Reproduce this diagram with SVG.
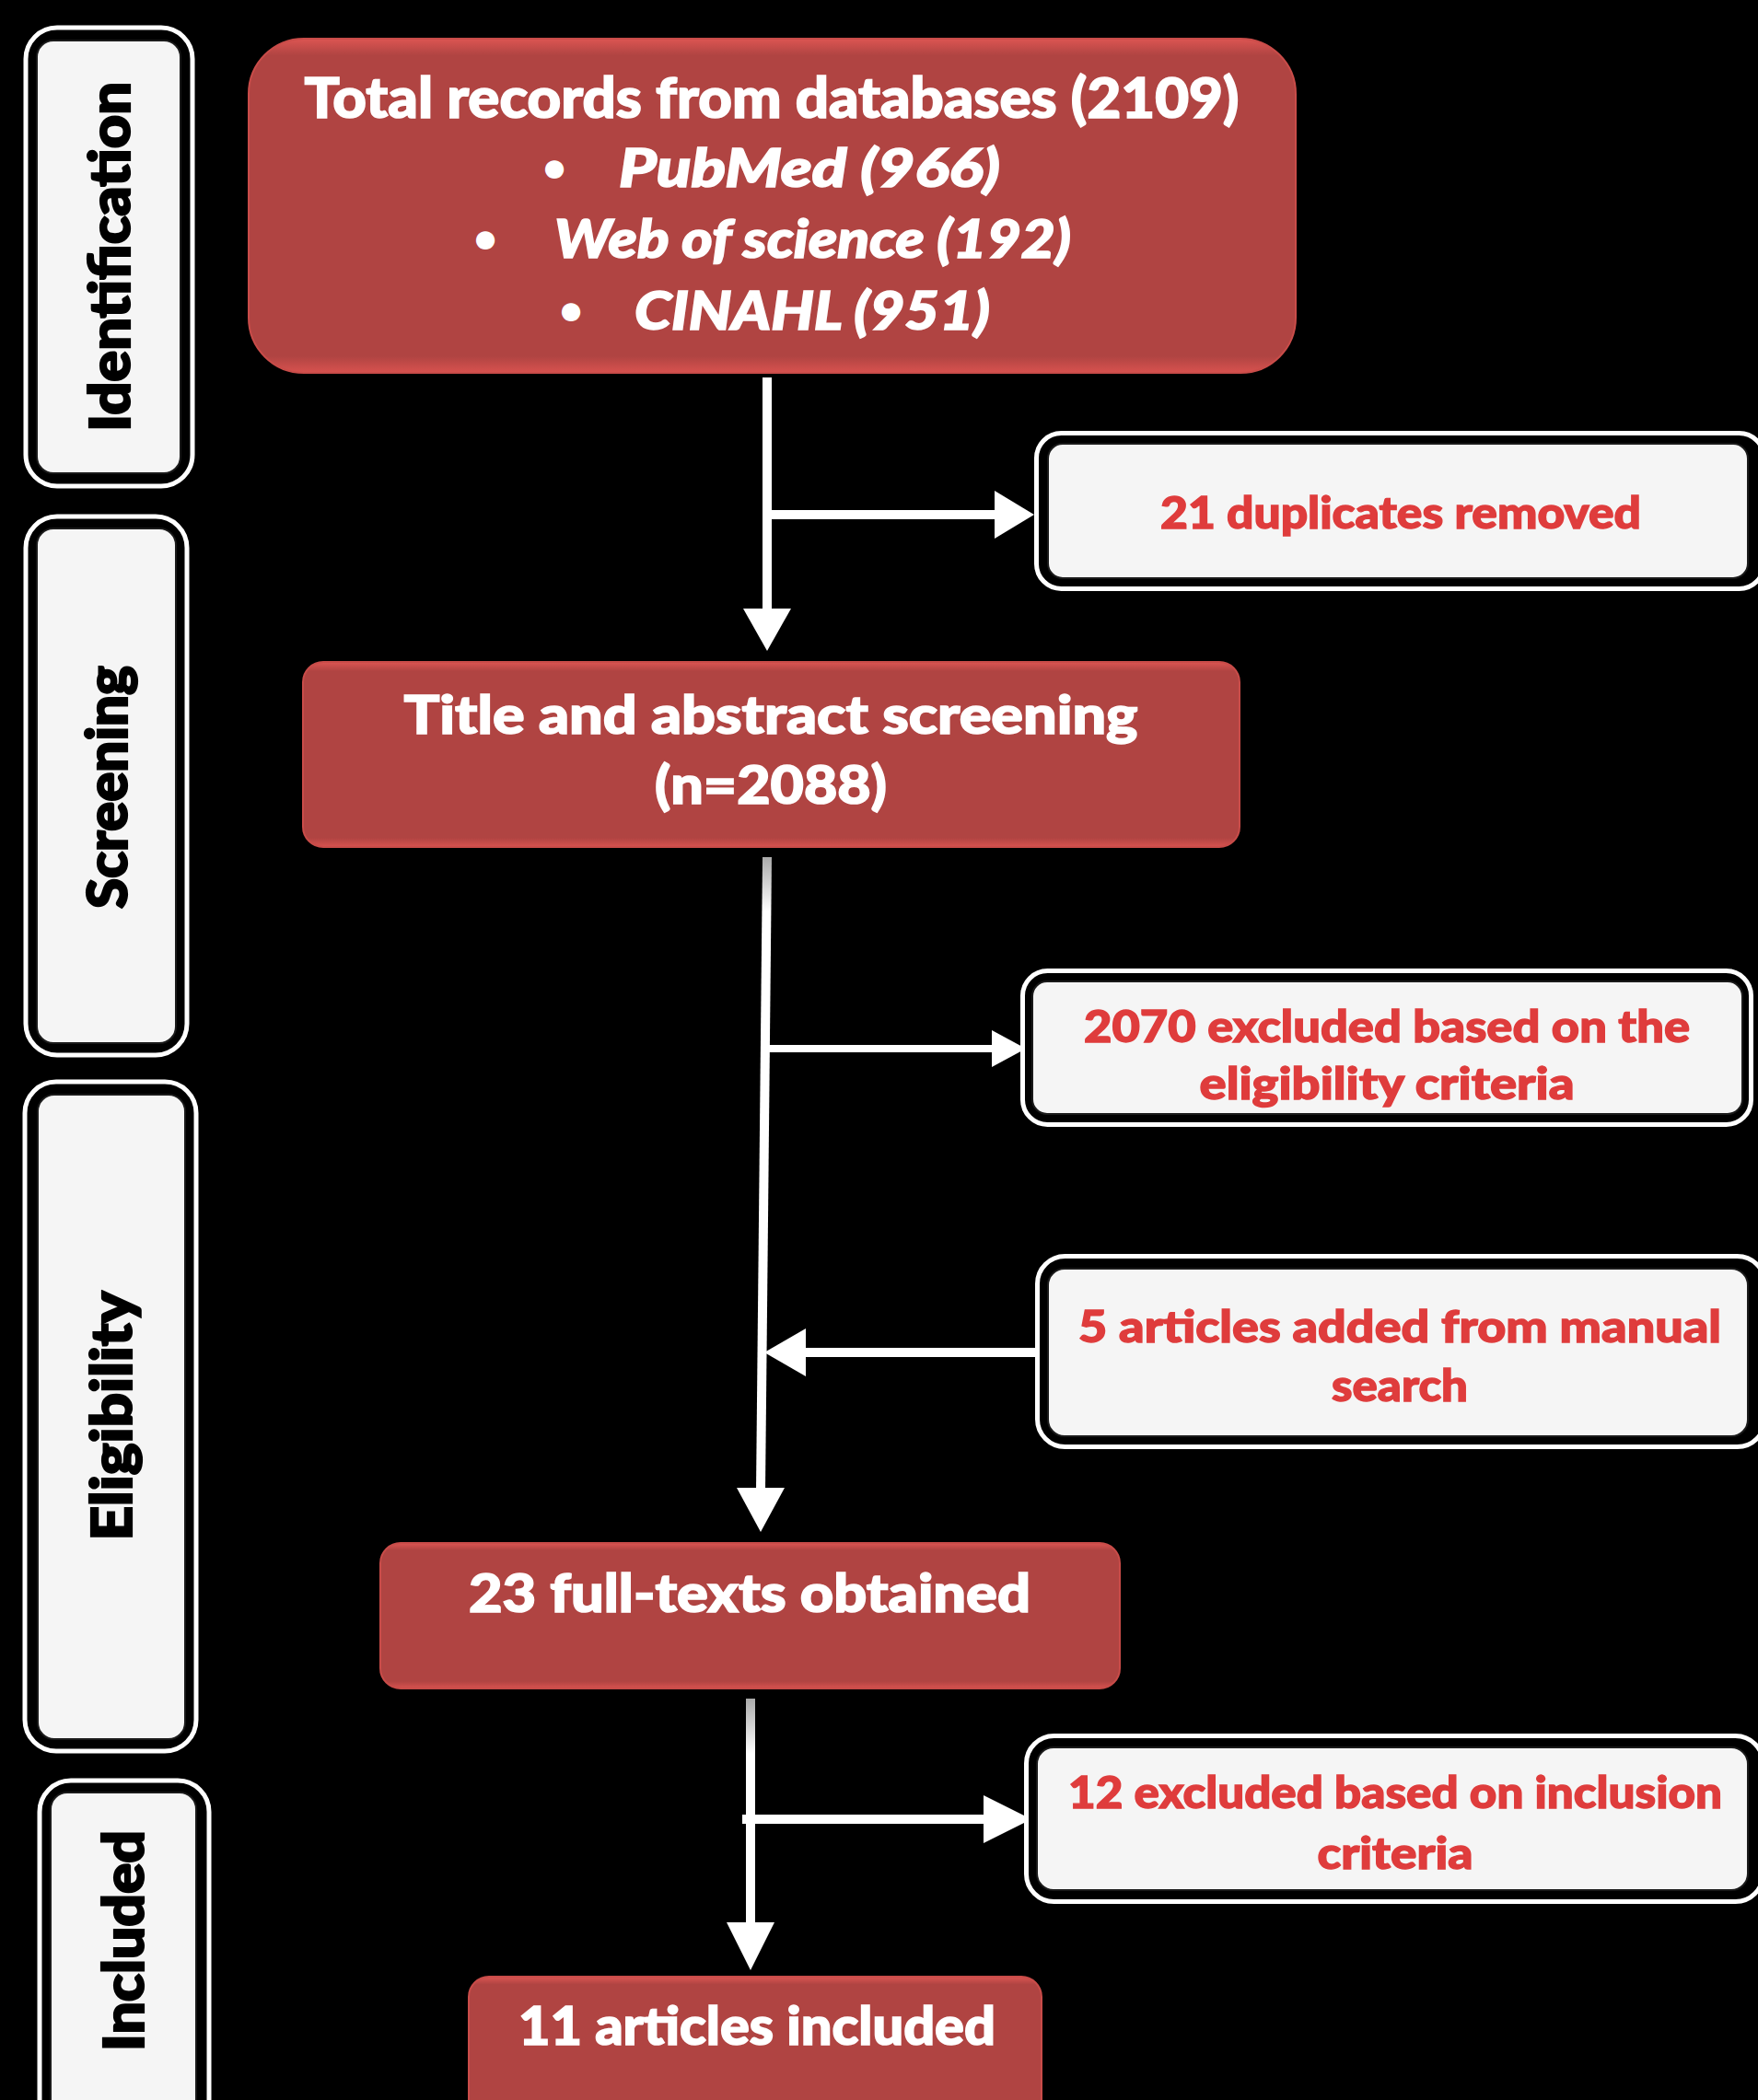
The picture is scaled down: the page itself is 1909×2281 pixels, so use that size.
<svg xmlns="http://www.w3.org/2000/svg" width="1909" height="2281" viewBox="0 0 1909 2281">
  <defs>
    <linearGradient id="redfill" x1="0" y1="0" x2="0" y2="1">
      <stop offset="0" stop-color="#dc5552"/>
      <stop offset="0.05" stop-color="#b04442"/>
      <stop offset="0.95" stop-color="#b04442"/>
      <stop offset="1" stop-color="#d8524f"/>
    </linearGradient>
    <linearGradient id="fadeA" gradientUnits="userSpaceOnUse" x1="0" y1="931" x2="0" y2="990">
      <stop offset="0" stop-color="#aaaaaa"/>
      <stop offset="1" stop-color="#ffffff"/>
    </linearGradient>
    <linearGradient id="fadeB" gradientUnits="userSpaceOnUse" x1="0" y1="1845" x2="0" y2="1905">
      <stop offset="0" stop-color="#aaaaaa"/>
      <stop offset="1" stop-color="#ffffff"/>
    </linearGradient>
    <style>
      .red { fill: url(#redfill); stroke: #c94c49; stroke-width: 2; }
      .outer { fill: #000; stroke: #fff; stroke-width: 5; }
      .inner { fill: #f5f5f5; stroke: #1a1a1a; stroke-width: 2; }
      .wt { font-family: Lato, "Liberation Sans", sans-serif; font-weight: 900; fill: #fff; stroke: #fff; stroke-width: 1.6; }
      .wi { font-family: Lato, "Liberation Sans", sans-serif; font-weight: 900; font-style: italic; fill: #fff; stroke: #fff; stroke-width: 1.6; }
      .rt { font-family: Lato, "Liberation Sans", sans-serif; font-weight: 900; fill: #df3c3c; stroke: #df3c3c; stroke-width: 1.4; font-size: 48px; text-anchor: middle; }
      .lab { font-family: Lato, "Liberation Sans", sans-serif; font-weight: 900; fill: #000; stroke: #000; stroke-width: 2.2; font-size: 60px; text-anchor: middle; }
      .ln { stroke: #fff; stroke-width: 10; fill: none; }
      .hd { fill: #fff; }
    </style>
  </defs>
  <rect x="0" y="0" width="1909" height="2281" fill="#000"/>

  <!-- Stage labels -->
  <g id="stage-identification">
    <rect class="outer" x="28" y="30" width="181" height="498" rx="34"/>
    <rect class="inner" x="40" y="44" width="156" height="470" rx="18"/>
    <text class="lab" transform="translate(141,279) rotate(-90)" textLength="380" lengthAdjust="spacingAndGlyphs">Identification</text>
  </g>
  <g id="stage-screening">
    <rect class="outer" x="28" y="561" width="175" height="585" rx="34"/>
    <rect class="inner" x="40" y="574" width="151" height="559" rx="18"/>
    <text class="lab" transform="translate(138,855) rotate(-90)" textLength="264" lengthAdjust="spacingAndGlyphs">Screening</text>
  </g>
  <g id="stage-eligibility">
    <rect class="outer" x="27" y="1175" width="186" height="727" rx="34"/>
    <rect class="inner" x="41" y="1189" width="160" height="700" rx="18"/>
    <text class="lab" transform="translate(143,1538) rotate(-90)" textLength="271" lengthAdjust="spacingAndGlyphs">Eligibility</text>
  </g>
  <g id="stage-included">
    <rect class="outer" x="43" y="1934" width="184" height="380" rx="34"/>
    <rect class="inner" x="55" y="1947" width="158" height="360" rx="18"/>
    <text class="lab" transform="translate(156,2108) rotate(-90)" textLength="240" lengthAdjust="spacingAndGlyphs">Included</text>
  </g>

  <!-- Connectors -->
  <g id="connectors">
    <line class="ln" x1="833" y1="410" x2="833" y2="664"/>
    <polygon class="hd" points="807,661 859,661 833,707"/>
    <line class="ln" x1="833" y1="559" x2="1082" y2="559"/>
    <polygon class="hd" points="1080,533 1123,559 1080,585"/>

    <line x1="833" y1="931" x2="826" y2="1620" stroke="url(#fadeA)" stroke-width="10"/>
    <polygon class="hd" points="800,1616 852,1616 826,1664"/>
    <line x1="831" y1="1139" x2="1080" y2="1139" stroke="#fff" stroke-width="8"/>
    <polygon class="hd" points="1077,1119 1114,1139 1077,1159"/>
    <line class="ln" x1="1132" y1="1469" x2="872" y2="1469"/>
    <polygon class="hd" points="875,1443 875,1495 830,1469"/>

    <line x1="815" y1="1845" x2="815" y2="2092" stroke="url(#fadeB)" stroke-width="10"/>
    <polygon class="hd" points="789,2088 841,2088 815,2140"/>
    <line class="ln" x1="806" y1="1976" x2="1070" y2="1976"/>
    <polygon class="hd" points="1068,1950 1120,1976 1068,2002"/>
  </g>

  <!-- Main flow nodes -->
  <g id="node-total">
    <rect class="red" x="270" y="42" width="1137" height="363" rx="60"/>
    <text class="wt" x="838" y="128" font-size="60" text-anchor="middle" textLength="1015" lengthAdjust="spacingAndGlyphs">Total records from databases (2109)</text>
    <text class="wt" x="602" y="196" font-size="40" text-anchor="middle">•</text>
    <text class="wi" x="672" y="203" font-size="58" textLength="414" lengthAdjust="spacingAndGlyphs">PubMed (966)</text>
    <text class="wt" x="527" y="273" font-size="40" text-anchor="middle">•</text>
    <text class="wi" x="602" y="280" font-size="58" textLength="561" lengthAdjust="spacingAndGlyphs">Web of science (192)</text>
    <text class="wt" x="620" y="351" font-size="40" text-anchor="middle">•</text>
    <text class="wi" x="689" y="358" font-size="58" textLength="386" lengthAdjust="spacingAndGlyphs">CINAHL (951)</text>
  </g>

  <g id="node-screening">
    <rect class="red" x="329" y="719" width="1017" height="201" rx="22"/>
    <text class="wt" x="837" y="797" font-size="58" text-anchor="middle" textLength="797" lengthAdjust="spacingAndGlyphs">Title and  abstract screening</text>
    <text class="wt" x="837" y="873" font-size="58" text-anchor="middle" textLength="252" lengthAdjust="spacingAndGlyphs">(n=2088)</text>
  </g>

  <g id="node-fulltexts">
    <rect class="red" x="413" y="1676" width="803" height="158" rx="22"/>
    <text class="wt" x="814" y="1751" font-size="58" text-anchor="middle" textLength="610" lengthAdjust="spacingAndGlyphs">23 full-texts obtained</text>
  </g>

  <g id="node-included">
    <rect class="red" x="509" y="2147" width="622" height="170" rx="22"/>
    <text class="wt" x="822" y="2221" font-size="58" text-anchor="middle" textLength="518" lengthAdjust="spacingAndGlyphs">11 articles included</text>
  </g>

  <!-- Side nodes -->
  <g id="node-duplicates">
    <rect class="outer" x="1125.5" y="470.5" width="790" height="169" rx="27"/>
    <rect class="inner" x="1138" y="482" width="760" height="146" rx="16"/>
    <text class="rt" x="1521" y="574" textLength="522" lengthAdjust="spacingAndGlyphs">21 duplicates removed</text>
  </g>

  <g id="node-excluded-eligibility">
    <rect class="outer" x="1110.5" y="1054.5" width="791" height="167" rx="27"/>
    <rect class="inner" x="1121" y="1066" width="771" height="144" rx="16"/>
    <text class="rt" x="1506" y="1132" textLength="658" lengthAdjust="spacingAndGlyphs">2070 excluded based on the</text>
    <text class="rt" x="1506" y="1194" textLength="407" lengthAdjust="spacingAndGlyphs">eligibility criteria</text>
  </g>

  <g id="node-manual">
    <rect class="outer" x="1126.5" y="1364.5" width="790" height="207" rx="30"/>
    <rect class="inner" x="1138" y="1378" width="760" height="182" rx="18"/>
    <text class="rt" x="1520" y="1458" textLength="698" lengthAdjust="spacingAndGlyphs">5 articles added from manual</text>
    <text class="rt" x="1520" y="1522" textLength="148" lengthAdjust="spacingAndGlyphs">search</text>
  </g>

  <g id="node-excluded-inclusion">
    <rect class="outer" x="1114.5" y="1885.5" width="800" height="180" rx="30"/>
    <rect class="inner" x="1126" y="1898" width="772" height="155" rx="18"/>
    <text class="rt" x="1515" y="1964" textLength="710" lengthAdjust="spacingAndGlyphs">12 excluded based on inclusion</text>
    <text class="rt" x="1515" y="2030" textLength="169" lengthAdjust="spacingAndGlyphs">criteria</text>
  </g>
</svg>
